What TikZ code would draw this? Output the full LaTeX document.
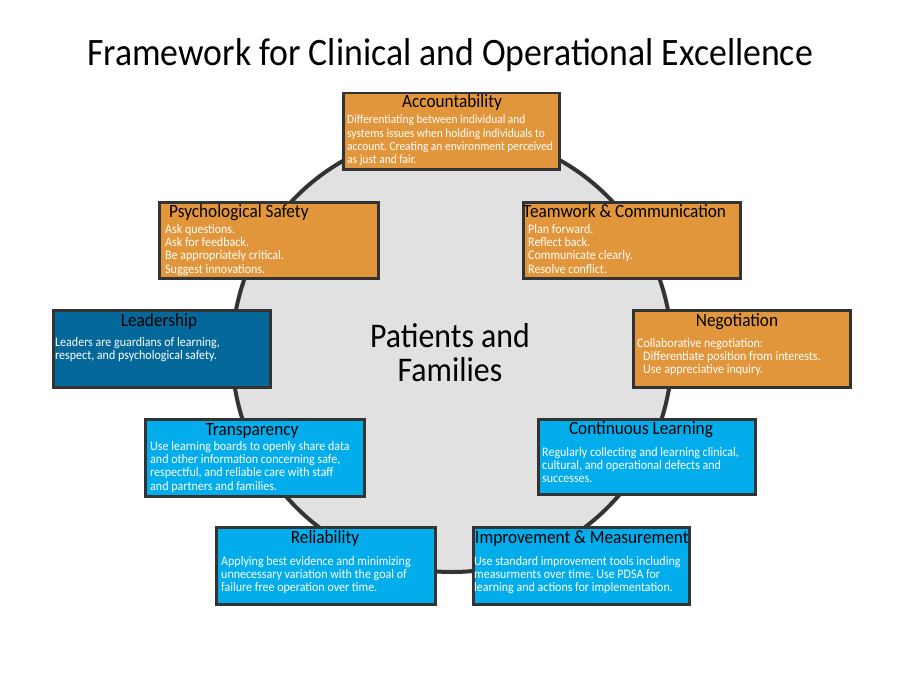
\documentclass[tikz,border=0pt]{standalone}
\usepackage{fontspec}
\setmainfont{Carlito}
\newfontfamily\cfont[FakeStretch=0.92]{Carlito}
\definecolor{orng}{HTML}{E2963B}
\definecolor{dblue}{HTML}{04699A}
\definecolor{lblue}{HTML}{03ADEC}
\definecolor{edge}{HTML}{333333}
\definecolor{disc}{HTML}{E2E1E1}
\newcommand\bodyfnt{\cfont\fontsize{13.1}{13.3}\selectfont\frenchspacing}
\newcommand\ttlfnt{\cfont\fontsize{18.8}{20}\selectfont}
\tikzset{
  box/.style={draw=edge, line width=2.5bp, inner sep=0pt, anchor=north west},
  ttl/.style={font=\ttlfnt, text=black, inner sep=0pt, anchor=base},
  ttll/.style={font=\ttlfnt, text=black, inner sep=0pt, anchor=base west},
  body/.style={font=\bodyfnt, text=white, align=left, inner sep=0pt, anchor=north west},
}
\begin{document}
\begin{tikzpicture}[x=1bp,y=-1bp]
\useasboundingbox[fill=white] (0,0) rectangle (900,675);
% title
\node[font=\cfont\fontsize{39}{42}\selectfont, inner sep=0pt, anchor=base] (title) at (450,66) {Framework for Clinical and Operational Excellence};
% disc
\node[circle, draw=edge, fill=disc, line width=4bp, minimum size=440bp, inner sep=0pt] (disc) at (452,352) {};
\node[font=\cfont\fontsize{34.7}{38}\selectfont, inner sep=0pt, anchor=base] (pf1) at (450,347) {Patients and};
\node[font=\cfont\fontsize{34.7}{38}\selectfont, inner sep=0pt, anchor=base] (pf2) at (450,381) {Families};
% Accountability
\node[box, fill=orng, minimum width=216bp, minimum height=76bp] (acc) at (342,92) {};
\node[ttl] (acct) at (452,108) {Accountability};
\node[body, font=\cfont\fontsize{12.5}{13.3}\selectfont\frenchspacing] (accb) at (347,115) {Differentiating between individual and\\systems issues when holding individuals to\\account. Creating an environment perceived\\as just and fair.};
% Psychological Safety
\node[box, fill=orng, minimum width=219bp, minimum height=76bp] (psy) at (158,201) {};
\node[ttll] (psyt) at (169,217) {Psychological Safety};
\node[body] (psyb) at (165,224) {Ask questions.\\Ask for feedback.\\Be appropriately critical.\\Suggest innovations.};
% Teamwork
\node[box, fill=orng, minimum width=217bp, minimum height=76bp] (team) at (522,201) {};
\node[ttll] (teamt) at (523,217) {Teamwork \& Communication};
\node[body] (teamb) at (528,224) {Plan forward.\\Reflect back.\\Communicate clearly.\\Resolve conflict.};
% Leadership
\node[box, fill=dblue, minimum width=217bp, minimum height=77bp] (lead) at (52,309) {};
\node[ttl] (leadt) at (159,326) {Leadership};
\node[body] (leadb) at (55,337) {Leaders are guardians of learning,\\respect, and psychological safety.};
% Negotiation
\node[box, fill=orng, minimum width=217bp, minimum height=77bp] (neg) at (632,309) {};
\node[ttl] (negt) at (737,326) {Negotiation};
\node[body] (negb) at (637,338) {Collaborative negotiation:\\\hspace*{6bp}Differentiate position from interests.\\\hspace*{6bp}Use appreciative inquiry.};
% Transparency
\node[box, fill=lblue, minimum width=219bp, minimum height=77bp] (trans) at (144,418) {};
\node[ttl] (transt) at (252,435) {Transparency};
\node[body] (transb) at (150,441) {Use learning boards to openly share data\\and other information concerning safe,\\respectful, and reliable care with staff\\and partners and families.};
% Continuous Learning
\node[box, fill=lblue, minimum width=217bp, minimum height=75bp] (cont) at (537,418) {};
\node[ttl] (contt) at (641,434) {Continuous Learning};
\node[body] (contb) at (542,447) {Regularly collecting and learning clinical,\\cultural, and operational defects and\\successes.};
% Reliability
\node[box, fill=lblue, minimum width=219bp, minimum height=77bp] (rel) at (215,526) {};
\node[ttl] (relt) at (325,543) {Reliability};
\node[body] (relb) at (221,556) {Applying best evidence and minimizing\\unnecessary variation with the goal of\\failure free operation over time.};
% Improvement
\node[box, fill=lblue, minimum width=216bp, minimum height=77bp] (imp) at (472,526) {};
\node[ttll] (impt) at (475,543) {Improvement \& Measurement};
\node[body] (impb) at (474,556) {Use standard improvement tools including\\measurments over time. Use PDSA for\\learning and actions for implementation.};
\end{tikzpicture}
\end{document}
